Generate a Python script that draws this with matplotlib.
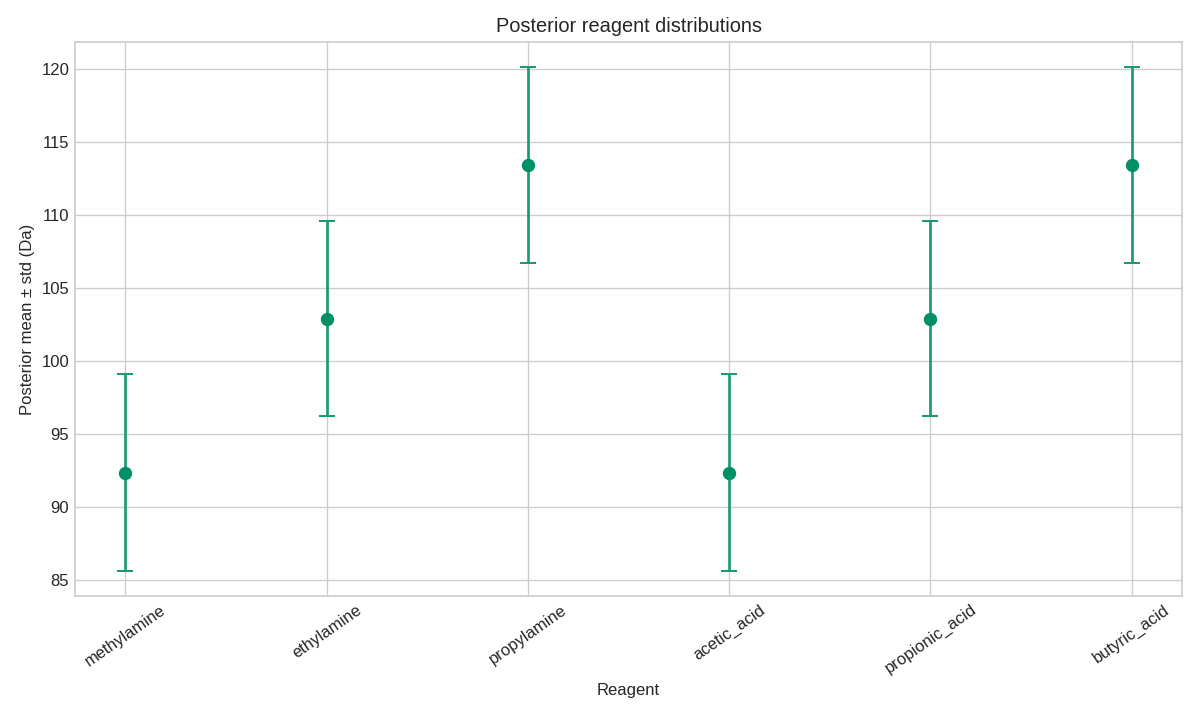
import numpy as np
import matplotlib
matplotlib.use("Agg")
import matplotlib.pyplot as plt

plt.style.use("seaborn-v0_8-whitegrid")
plt.rcParams['font.family'] = ['Liberation Sans', 'DejaVu Sans']

# posterior summaries
reagentes = ["methylamine", "ethylamine", "propylamine",
             "acetic_acid", "propionic_acid", "butyric_acid"]
medias = [92.33, 102.88, 113.42, 92.33, 102.88, 113.42]
desvios = [6.74, 6.70, 6.70, 6.74, 6.70, 6.70]

COR = "#009068"

fig, ax = plt.subplots(figsize=(10, 6), dpi=120)
x = np.arange(len(reagentes))
ax.errorbar(x, medias, yerr=desvios, fmt="o", color=COR, ecolor="#1a9a72",
            elinewidth=1.6, capsize=5, capthick=1.2, markersize=7)

ax.set_xticks(x)
ax.set_xticklabels(reagentes, rotation=35)
ax.set_xlabel("Reagent")
ax.set_ylabel("Posterior mean ± std (Da)")
ax.set_title("Posterior reagent distributions")
for s in ax.spines.values():
    s.set_visible(True)
    s.set_color("#cccccc")

fig.subplots_adjust(left=0.0625, right=0.985, top=0.9417, bottom=0.172)
fig.savefig("out.png")
